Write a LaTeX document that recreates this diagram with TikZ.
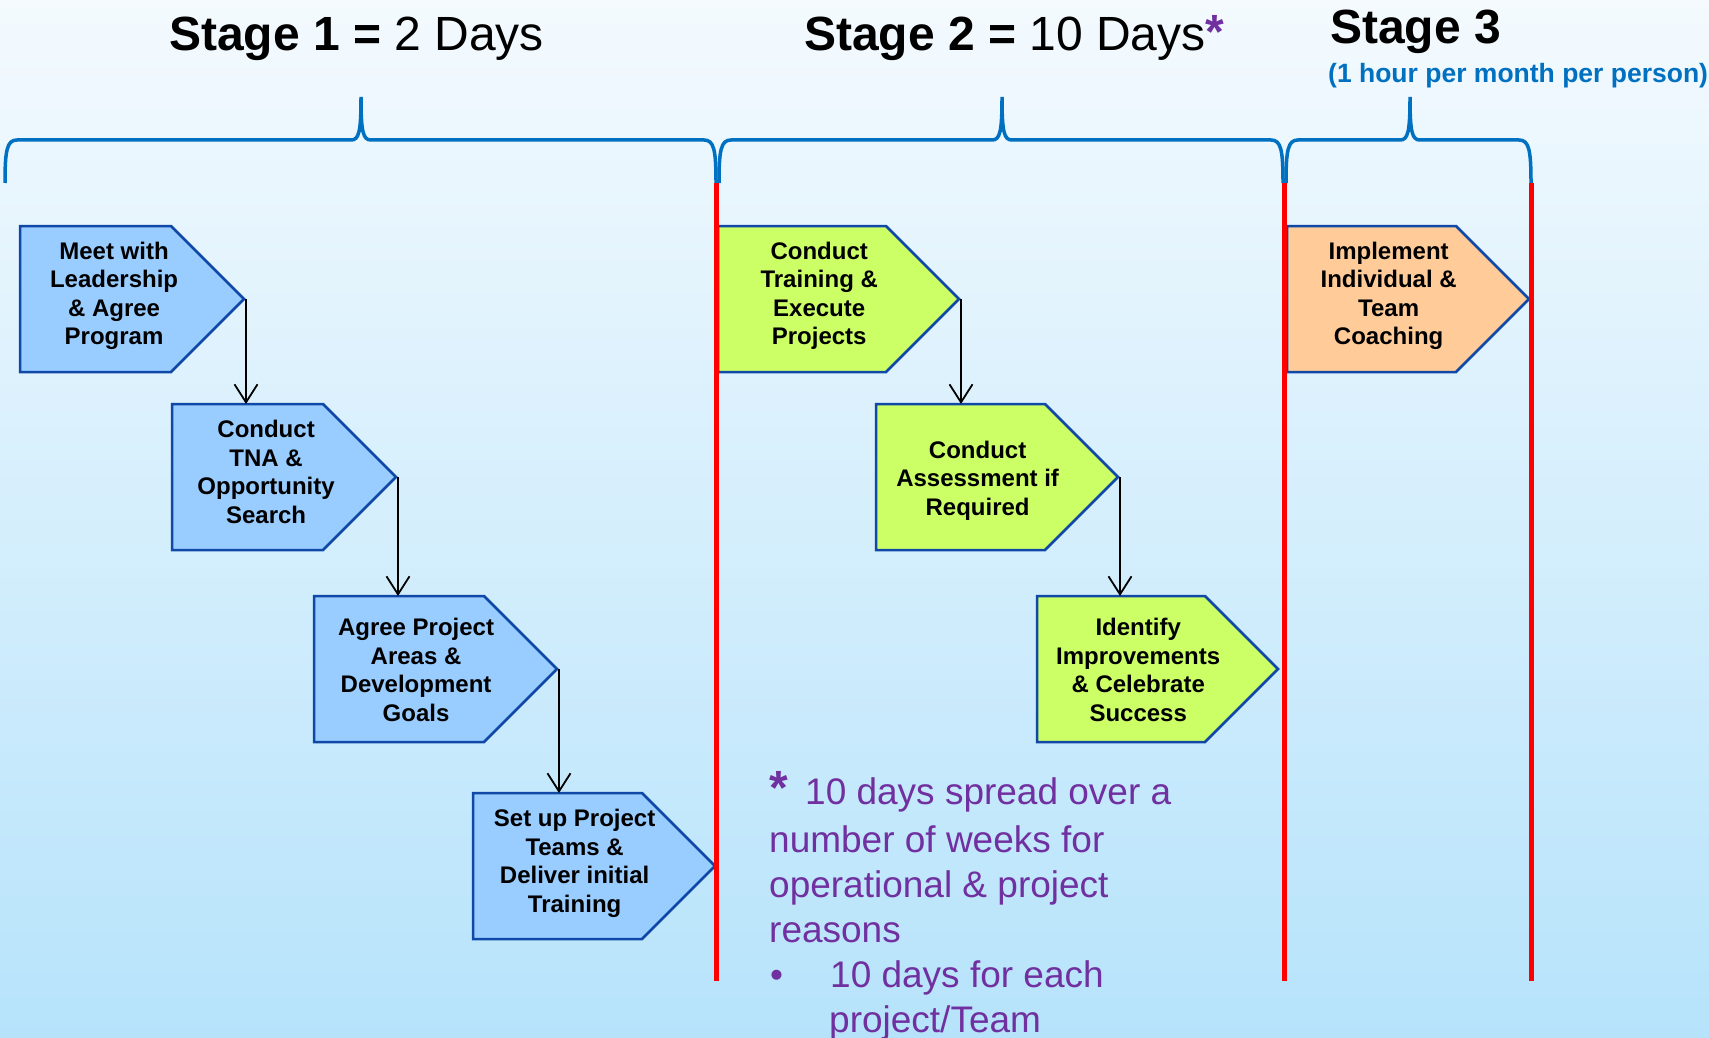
\documentclass[tikz,border=0pt]{standalone}
\usepackage{fontspec}
\setmainfont{Liberation Sans}
\usetikzlibrary{arrows.meta,calc}

\definecolor{bgtop}{RGB}{244,250,254}
\definecolor{bgbot}{RGB}{182,227,251}
\definecolor{stepblue}{RGB}{153,204,255}
\definecolor{stepgreen}{RGB}{204,255,102}
\definecolor{steporange}{RGB}{255,204,153}
\definecolor{stepedge}{RGB}{16,72,168}
\definecolor{bracecol}{RGB}{0,112,192}
\definecolor{notepurple}{RGB}{112,48,160}
\definecolor{barred}{RGB}{255,0,0}

% one process step: an arrow-shaped box (pointed on the right) with its caption
% [#1 caption lift], #2 name, #3 left, #4 top, #5 width, #6 fill colour, #7 caption
\newcommand\stepnode[7][0]{%
  \node[stepframe, minimum width=#5pt, anchor=north west] (#2) at (#3,#4) {};
  \filldraw[stepline, fill=#6] (#2.north west) -- ([xshift=-73pt]#2.north east)
    -- (#2.east) -- ([xshift=-73pt]#2.south east) -- (#2.south west) -- cycle;
  \node[steptext, yshift=#1pt] (#2-label) at ($(#2.west)!0.42!(#2.east)$) {#7};
}

% curly bracket over a stage: left end, tip, right end
\newcommand\stagebrace[3]{%
  \draw[bracestyle] (#1,183) .. controls (#1,150) and (#1+2,140) .. (#1+12,140)
    -- (#2-10,140) .. controls (#2-2,140) and (#2,132) .. (#2,97)
    .. controls (#2,132) and (#2+2,140) .. (#2+10,140)
    -- (#3-12,140) .. controls (#3-2,140) and (#3,150) .. (#3,183);
}

\begin{document}
\begin{tikzpicture}[x=1pt, y=-1pt,
  stepframe/.style={rectangle, inner sep=0pt, outer sep=0pt, minimum height=146pt},
  stepline/.style={draw=stepedge, line width=2.5pt, line join=miter},
  steptext/.style={font=\fontsize{24}{28.5}\selectfont\bfseries, align=center,
    text=black, inner sep=0pt},
  flow/.style={draw=black, line width=1.8pt,
    -{Straight Barb[length=18pt, width=23pt]}},
  bracestyle/.style={draw=bracecol, line width=3.5pt},
  stagebar/.style={draw=barred, line width=5pt},
  titletext/.style={anchor=base west, inner sep=0pt, font=\fontsize{48}{48}\selectfont},
  notetext/.style={anchor=base west, inner sep=0pt, text=notepurple,
    font=\fontsize{37}{45.5}\selectfont}]

\useasboundingbox (0,0) rectangle (1709,1038);
\shade[top color=bgtop, bottom color=bgbot] (0,0) rectangle (1709,1038);

% stage brackets
\stagebrace{5}{361}{716}
\stagebrace{719}{1002}{1283}
\stagebrace{1286}{1410}{1531}

% process steps
\stepnode[3.3]{s1}{20}{226}{224}{stepblue}{Meet with\\Leadership\\\& Agree\\Program}
\stepnode[5]{s2}{172}{404}{224}{stepblue}{Conduct\\TNA \&\\Opportunity\\Search}
\stepnode[-1]{s3}{314}{596}{243}{stepblue}{Agree Project\\Areas \&\\Development\\Goals}
\stepnode[2.7]{s4}{473}{793}{242}{stepblue}{Set up Project\\Teams \&\\Deliver initial\\Training}
\stepnode[3.3]{s5}{718}{226}{241}{stepgreen}{Conduct\\Training \&\\Execute\\Projects}
\stepnode[-3.3]{s6}{876}{404}{242}{stepgreen}{Conduct\\Assessment if\\Required}
\stepnode[-1]{s7}{1037}{596}{241}{stepgreen}{Identify\\Improvements\\\& Celebrate\\Success}
\stepnode[3.3]{s8}{1287}{226}{242}{steporange}{Implement\\Individual \&\\Team\\Coaching}

% flow between steps
\draw[flow] ([xshift=2pt]s1.east) -- ([xshift=2pt]s1.east |- s2.north);
\draw[flow] ([xshift=2pt]s2.east) -- ([xshift=2pt]s2.east |- s3.north);
\draw[flow] ([xshift=2pt]s3.east) -- ([xshift=2pt]s3.east |- s4.north);
\draw[flow] ([xshift=2pt]s5.east) -- ([xshift=2pt]s5.east |- s6.north);
\draw[flow] ([xshift=2pt]s6.east) -- ([xshift=2pt]s6.east |- s7.north);

% stage boundaries
\coordinate (b1top) at (716,183);  \coordinate (b1bot) at (716,981);
\coordinate (b2top) at (1284,183); \coordinate (b2bot) at (1284,981);
\coordinate (b3top) at (1531,183); \coordinate (b3bot) at (1531,981);
\draw[stagebar] (b1top) -- (b1bot);
\draw[stagebar] (b2top) -- (b2bot);
\draw[stagebar] (b3top) -- (b3bot);

% stage titles
\node[titletext] (t1) at (169,51) {\textbf{Stage 1 =} 2 Days};
\node[titletext] (t2) at (804,51) {\textbf{Stage 2 =} 10 Days\raisebox{2pt}{\textcolor{notepurple}{\bfseries*}}};
\node[titletext] (t3) at (1330,44) {\textbf{Stage 3}};
\node[anchor=base west, inner sep=0pt, text=bracecol,
  font=\fontsize{26.5}{26.5}\selectfont\bfseries] (t3sub) at (1328,83) {(1 hour per month per person)};

% footnote
\node[notetext, font=\fontsize{48}{48}\selectfont\bfseries] (nstar) at (769,804) {*};
\node[notetext] (n1) at (805,804) {10 days spread over a};
\node[notetext] (n2) at (769,852) {number of weeks for};
\node[notetext] (n3) at (769,897) {operational \& project};
\node[notetext] (n4) at (769,942) {reasons};
\node[notetext] (n5b) at (770,987) {\textbullet};
\node[notetext] (n5) at (830,987) {10 days for each};
\node[notetext] (n6) at (829,1032) {project/Team};
\end{tikzpicture}
\end{document}
